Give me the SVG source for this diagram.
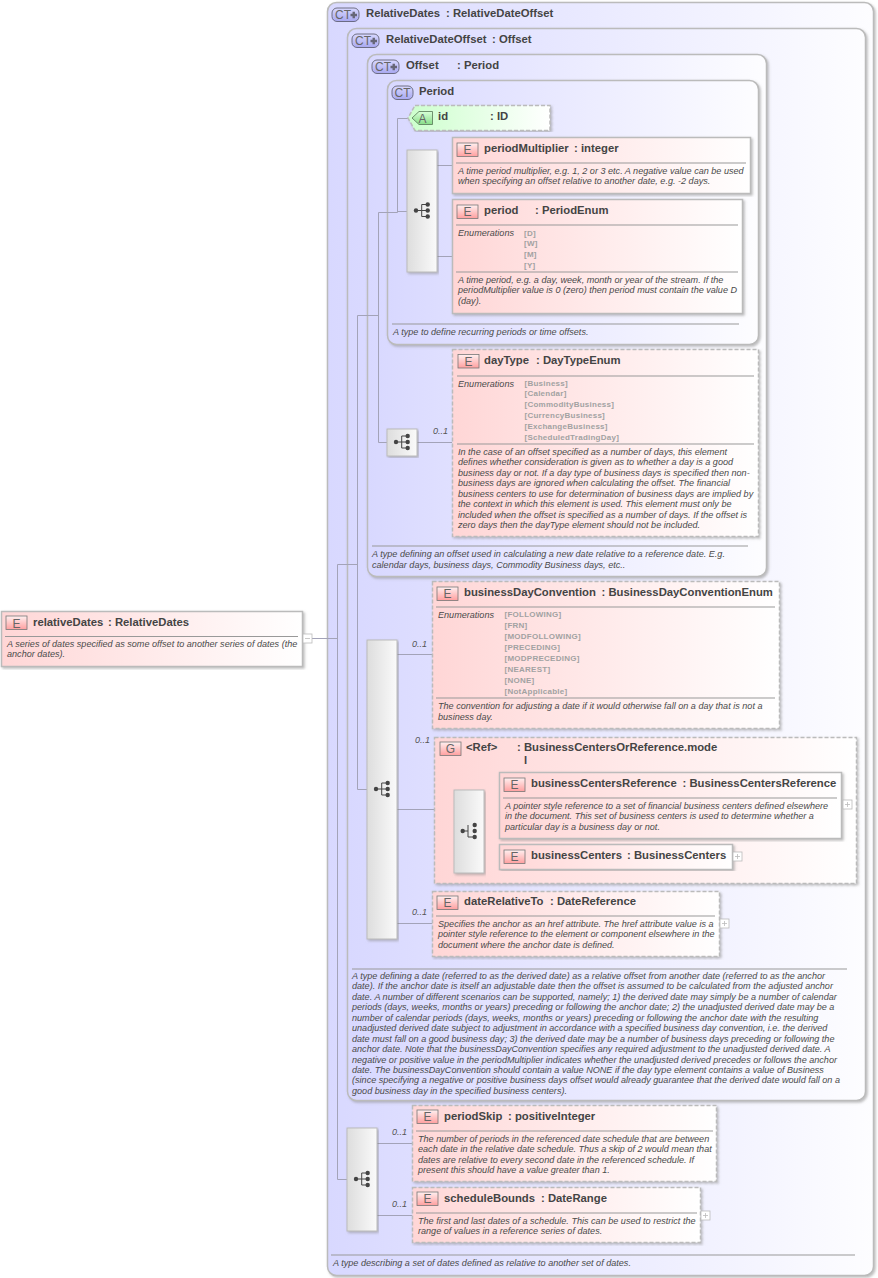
<svg xmlns="http://www.w3.org/2000/svg" width="878" height="1278" viewBox="0 0 878 1278">
<style>
text{font-family:"Liberation Sans",Arial,sans-serif;fill:#444}
.h{font-size:11.300px;font-weight:bold}
.d{font-size:9.080px;font-style:italic;fill:#4a4a4a}
.o{font-size:9px;font-style:italic;fill:#555}
.e{font-size:8px;font-weight:bold;fill:#a2a2a2;letter-spacing:.25px}
.b{font-size:12px;text-anchor:middle;fill:#666}
.c{fill:none;stroke:#a3a3b8;stroke-width:1}
.sep{stroke:#999;stroke-width:1;fill:none}
.ct{fill:url(#gct);stroke:#bbb;stroke-width:1.5;filter:url(#sh)}
.el{fill:url(#gel);stroke:#bbb;stroke-width:1.5;filter:url(#sh)}
.opt{fill:url(#gel);stroke:#bbb;stroke-width:1.5;stroke-dasharray:4 2;filter:url(#sh)}
.at{fill:url(#gat);stroke:#bbb;stroke-width:1.5;stroke-dasharray:4 2;filter:url(#sh)}
.seq{fill:url(#gseq);stroke:#bbb;stroke-width:1;filter:url(#sh)}
.bE{fill:url(#gbE);stroke:#777;stroke-width:.8}
.bC{fill:url(#gbC);stroke:#556;stroke-width:.8}
.bA{fill:url(#gbA);stroke:#575;stroke-width:.8}
.pl{fill:#fff;stroke:#bbb;stroke-width:.8}
.pm{stroke:#bbb;stroke-width:.8;fill:none}
</style>
<defs>
<linearGradient id="gct" x1="0" y1="0" x2="1" y2="0"><stop offset="0" stop-color="#d8d8ff"/><stop offset="1" stop-color="#fdfdff"/></linearGradient>
<linearGradient id="gel" x1="0" y1="0" x2="1" y2="0"><stop offset="0" stop-color="#ffd6d6"/><stop offset="1" stop-color="#fff"/></linearGradient>
<linearGradient id="gat" x1="0" y1="0" x2="1" y2="0"><stop offset="0" stop-color="#ccffcc"/><stop offset="1" stop-color="#fff"/></linearGradient>
<linearGradient id="gseq" x1="0" y1="0" x2="1" y2="0"><stop offset="0" stop-color="#ddd"/><stop offset="1" stop-color="#fafafa"/></linearGradient>
<linearGradient id="gbE" x1="0" y1="0" x2="0" y2="1"><stop offset="0" stop-color="#fff0f0"/><stop offset="1" stop-color="#ff9f9f"/></linearGradient>
<linearGradient id="gbC" x1="0" y1="0" x2="0" y2="1"><stop offset="0" stop-color="#d8d8ff"/><stop offset="1" stop-color="#a8a8f0"/></linearGradient>
<linearGradient id="gbA" x1="0" y1="0" x2="0" y2="1"><stop offset="0" stop-color="#d8ffd8"/><stop offset="1" stop-color="#88dd88"/></linearGradient>
<filter id="sh" x="-5%" y="-5%" width="110%" height="110%"><feDropShadow dx="1.5" dy="1.5" stdDeviation="1" flood-color="#888" flood-opacity=".55"/></filter>
<g id="badgeE"><rect class="bE" x="0" y="0" width="21" height="13.500"/></g>
<g id="badgeCTp"><rect class="bC" x="0" y="0" width="27" height="13.500" rx="5"/><path d="M18.500 7h6.500M21.750 3.750v6.500" stroke="#667" stroke-width="2.400" fill="none"/></g>
<g id="plus"><rect class="pl" x="0" y="0" width="9" height="9"/><path class="pm" d="M2 4.500h5M4.500 2v5"/></g>
<g id="seqI" fill="#444" stroke="#444" stroke-width="1"><circle cx="0" cy="0" r="2.200" stroke="none"/><path d="M0 0h5.700M5.700 -6v12M5.700 -6h6M5.700 0h6M5.700 6h6" fill="none"/><circle cx="11.700" cy="-6" r="2.200" stroke="none"/><circle cx="11.700" cy="0" r="2.200" stroke="none"/><circle cx="11.700" cy="6" r="2.200" stroke="none"/></g>
<g id="choI" fill="#444" stroke="#444" stroke-width="1"><circle cx="0" cy="0" r="2.200" stroke="none"/><path d="M0 0h5.300M5.300 -6V6h6.700" fill="none"/><circle cx="12" cy="-6" r="2.200" stroke="none"/><circle cx="12" cy="0" r="2.200" stroke="none"/><circle cx="12" cy="6" r="2.200" stroke="none"/></g>
</defs>

<g id="ct-relativedates">
<rect class="ct" x="327.500" y="2.500" width="546" height="1273" rx="9"/>
<use href="#badgeCTp" x="332" y="8"/><text class="b" x="343" y="19">CT</text>
<text class="h" x="366" y="17">RelativeDates</text><text class="h" x="446" y="17">: RelativeDateOffset</text>
<path class="sep" d="M331 1255H855"/>
<text class="d" x="333" y="1266">A type describing a set of dates defined as relative to another set of dates.</text>
</g>
<g id="ct-relativedateoffset">
<rect class="ct" x="347.500" y="28.500" width="518" height="1072" rx="9"/>
<use href="#badgeCTp" x="352" y="34"/><text class="b" x="363" y="45">CT</text>
<text class="h" x="386" y="43">RelativeDateOffset</text><text class="h" x="492" y="43">: Offset</text>
<path class="sep" d="M352 969H847"/>
<text class="d" x="352" y="979">A type defining a date (referred to as the derived date) as a relative offset from another date (referred to as the anchor</text>
<text class="d" x="352" y="989">date). If the anchor date is itself an adjustable date then the offset is assumed to be calculated from the adjusted anchor</text>
<text class="d" x="352" y="1000">date. A number of different scenarios can be supported, namely; 1) the derived date may simply be a number of calendar</text>
<text class="d" x="352" y="1010">periods (days, weeks, months or years) preceding or following the anchor date; 2) the unadjusted derived date may be a</text>
<text class="d" x="352" y="1021">number of calendar periods (days, weeks, months or years) preceding or following the anchor date with the resulting</text>
<text class="d" x="352" y="1031">unadjusted derived date subject to adjustment in accordance with a specified business day convention, i.e. the derived</text>
<text class="d" x="352" y="1042">date must fall on a good business day; 3) the derived date may be a number of business days preceding or following the</text>
<text class="d" x="352" y="1052">anchor date. Note that the businessDayConvention specifies any required adjustment to the unadjusted derived date. A</text>
<text class="d" x="352" y="1063">negative or positive value in the periodMultiplier indicates whether the unadjusted derived precedes or follows the anchor</text>
<text class="d" x="352" y="1073">date. The businessDayConvention should contain a value NONE if the day type element contains a value of Business</text>
<text class="d" x="352" y="1083">(since specifying a negative or positive business days offset would already guarantee that the derived date would fall on a</text>
<text class="d" x="352" y="1094">good business day in the specified business centers).</text>
</g>
<g id="ct-offset">
<rect class="ct" x="367.500" y="54.500" width="399" height="522" rx="9"/>
<use href="#badgeCTp" x="372" y="60"/><text class="b" x="383" y="71">CT</text>
<text class="h" x="406" y="69">Offset</text><text class="h" x="457" y="69">: Period</text>
<path class="sep" d="M372 546H748"/>
<text class="d" x="372" y="557">A type defining an offset used in calculating a new date relative to a reference date. E.g.</text>
<text class="d" x="372" y="568">calendar days, business days, Commodity Business days, etc..</text>
</g>
<g id="ct-period">
<rect class="ct" x="387.500" y="80.500" width="371" height="264" rx="9"/>
<rect class="bC" x="392" y="86" width="21" height="13.500" rx="5"/><text class="b" x="402.500" y="97">CT</text>
<text class="h" x="419" y="95">Period</text>
<path class="sep" d="M392 324H739"/>
<text class="d" x="393" y="335">A type to define recurring periods or time offsets.</text>
</g>

<g id="connectors">
<path class="c" d="M312 638.500H337.500M337.500 564.500V1179.500M337.500 564.500H357.500M357.500 315.500V789.500M357.500 315.500H378.500M357.500 789.500H367M378.500 212.500V442.500M378.500 212.500H397.500M378.500 442.500H387M397.500 118.500V212.500M397.500 118.500H408M397.500 211.500H407M437 165.500H452M437 256.500H452M417 442.500H452M397 654.500H432M397 809.500H434M397 923.500H432M434 831.500H454M484 805.500H499M484 857.500H499M337.500 1179.500H347M377 1143.500H412M377 1215.500H412"/>
</g>

<g id="attr-id">
<path class="at" d="M415 105.500H550V130.500H415L408 118Z"/>
<path class="bA" d="M419 111.500H432.500V124.500H419L412 118Z"/><text class="b" x="422.500" y="122.500">A</text>
<text class="h" x="438" y="120">id</text><text class="h" x="490" y="120">: ID</text>
</g>
<g id="seq-period"><rect class="seq" x="407" y="150" width="30" height="122"/><use href="#seqI" x="416" y="210.500"/></g>
<g id="el-periodmultiplier">
<rect class="el" x="452.500" y="137.500" width="298" height="56"/>
<use href="#badgeE" x="457" y="143"/><text class="b" x="467.500" y="154">E</text>
<text class="h" x="484" y="152">periodMultiplier</text><text class="h" x="574" y="152">: integer</text>
<path class="sep" d="M456 163H746"/>
<text class="d" x="458" y="174">A time period multiplier, e.g. 1, 2 or 3 etc. A negative value can be used</text>
<text class="d" x="458" y="184">when specifying an offset relative to another date, e.g. -2 days.</text>
</g>
<g id="el-period">
<rect class="el" x="452.500" y="199.500" width="290" height="114"/>
<use href="#badgeE" x="457" y="205"/><text class="b" x="467.500" y="216">E</text>
<text class="h" x="484" y="214">period</text><text class="h" x="535" y="214">: PeriodEnum</text>
<path class="sep" d="M456 225H738M456 272H738"/>
<text class="d" x="458" y="236">Enumerations</text>
<text class="e" x="524" y="236">[D]</text><text class="e" x="524" y="246">[W]</text><text class="e" x="524" y="257">[M]</text><text class="e" x="524" y="268">[Y]</text>
<text class="d" x="458" y="283">A time period, e.g. a day, week, month or year of the stream. If the</text>
<text class="d" x="458" y="293">periodMultiplier value is 0 (zero) then period must contain the value D</text>
<text class="d" x="458" y="304">(day).</text>
</g>
<g id="seq-offset"><rect class="seq" x="387" y="429" width="30" height="27"/><use href="#seqI" x="396" y="442"/></g>
<text class="o" x="433" y="434">0..1</text>
<g id="el-daytype">
<rect class="opt" x="452.500" y="349.500" width="306" height="187"/>
<use href="#badgeE" x="458" y="354.500"/><text class="b" x="468.500" y="366">E</text>
<text class="h" x="484" y="364">dayType</text><text class="h" x="536" y="364">: DayTypeEnum</text>
<path class="sep" d="M457 376H754M457 444H754"/>
<text class="d" x="458" y="387">Enumerations</text>
<text class="e" x="524.500" y="385.500">[Business]</text><text class="e" x="524.500" y="396">[Calendar]</text><text class="e" x="524.500" y="406.500">[CommodityBusiness]</text><text class="e" x="524.500" y="417.500">[CurrencyBusiness]</text><text class="e" x="524.500" y="428.500">[ExchangeBusiness]</text><text class="e" x="524.500" y="439.500">[ScheduledTradingDay]</text>
<text class="d" x="458" y="455">In the case of an offset specified as a number of days, this element</text>
<text class="d" x="458" y="465">defines whether consideration is given as to whether a day is a good</text>
<text class="d" x="458" y="476">business day or not. If a day type of business days is specified then non-</text>
<text class="d" x="458" y="486">business days are ignored when calculating the offset. The financial</text>
<text class="d" x="458" y="497">business centers to use for determination of business days are implied by</text>
<text class="d" x="458" y="507">the context in which this element is used. This element must only be</text>
<text class="d" x="458" y="518">included when the offset is specified as a number of days. If the offset is</text>
<text class="d" x="458" y="528">zero days then the dayType element should not be included.</text>
</g>
<g id="seq-offsetdate"><rect class="seq" x="367" y="640" width="30" height="299"/><use href="#seqI" x="376" y="789"/></g>
<text class="o" x="412" y="647">0..1</text><text class="o" x="415" y="743">0..1</text><text class="o" x="412" y="915">0..1</text>
<g id="el-businessdayconvention">
<rect class="opt" x="432.500" y="581.500" width="347" height="147"/>
<use href="#badgeE" x="437" y="587"/><text class="b" x="447.500" y="598">E</text>
<text class="h" x="464" y="596">businessDayConvention</text><text class="h" x="601.500" y="596">: BusinessDayConventionEnum</text>
<path class="sep" d="M436 607H775M436 698H775"/>
<text class="d" x="438" y="618">Enumerations</text>
<text class="e" x="504.500" y="617">[FOLLOWING]</text><text class="e" x="504.500" y="628">[FRN]</text><text class="e" x="504.500" y="639">[MODFOLLOWING]</text><text class="e" x="504.500" y="650">[PRECEDING]</text><text class="e" x="504.500" y="661">[MODPRECEDING]</text><text class="e" x="504.500" y="672">[NEAREST]</text><text class="e" x="504.500" y="683">[NONE]</text><text class="e" x="504.500" y="694">[NotApplicable]</text>
<text class="d" x="438" y="709">The convention for adjusting a date if it would otherwise fall on a day that is not a</text>
<text class="d" x="438" y="720">business day.</text>
</g>
<g id="grp-ref">
<rect class="opt" x="434.500" y="737.500" width="422" height="146"/>
<use href="#badgeE" x="440" y="742"/><text class="b" x="450.500" y="753">G</text>
<text class="h" x="466" y="751">&lt;Ref&gt;</text><text class="h" x="517" y="751">: BusinessCentersOrReference.mode</text>
<text class="h" x="524" y="764">l</text>
</g>
<g id="seq-bc"><rect class="seq" x="454" y="790" width="30" height="83"/><use href="#choI" x="462.700" y="831"/></g>
<g id="el-businesscentersreference">
<rect class="el" x="499.500" y="772.500" width="342" height="66"/>
<use href="#badgeE" x="504" y="778"/><text class="b" x="514.500" y="789">E</text>
<text class="h" x="531" y="787">businessCentersReference</text><text class="h" x="682.500" y="787">: BusinessCentersReference</text>
<path class="sep" d="M503 798H837"/>
<text class="d" x="505" y="809">A pointer style reference to a set of financial business centers defined elsewhere</text>
<text class="d" x="505" y="819">in the document. This set of business centers is used to determine whether a</text>
<text class="d" x="505" y="830">particular day is a business day or not.</text>
<use href="#plus" x="843" y="800"/>
</g>
<g id="el-businesscenters">
<rect class="el" x="499.500" y="844.500" width="233" height="25"/>
<use href="#badgeE" x="504" y="850"/><text class="b" x="514.500" y="861">E</text>
<text class="h" x="531" y="859">businessCenters</text><text class="h" x="627" y="859">: BusinessCenters</text>
<use href="#plus" x="733" y="852"/>
</g>
<g id="el-daterelativeto">
<rect class="opt" x="432.500" y="891.500" width="287" height="65"/>
<use href="#badgeE" x="437" y="896"/><text class="b" x="447.500" y="907">E</text>
<text class="h" x="464" y="905">dateRelativeTo</text><text class="h" x="550" y="905">: DateReference</text>
<path class="sep" d="M436 916H715"/>
<text class="d" x="438" y="927">Specifies the anchor as an href attribute. The href attribute value is a</text>
<text class="d" x="438" y="937">pointer style reference to the element or component elsewhere in the</text>
<text class="d" x="438" y="948">document where the anchor date is defined.</text>
<use href="#plus" x="720" y="919"/>
</g>
<g id="seq-relativedates"><rect class="seq" x="347" y="1128" width="30" height="103"/><use href="#seqI" x="356" y="1179"/></g>
<text class="o" x="392" y="1135">0..1</text><text class="o" x="392" y="1207">0..1</text>
<g id="el-periodskip">
<rect class="opt" x="412.500" y="1105.500" width="304" height="76"/>
<use href="#badgeE" x="417" y="1110"/><text class="b" x="427.500" y="1121">E</text>
<text class="h" x="444" y="1120">periodSkip</text><text class="h" x="508" y="1120">: positiveInteger</text>
<path class="sep" d="M416 1131H713"/>
<text class="d" x="418" y="1142">The number of periods in the referenced date schedule that are between</text>
<text class="d" x="418" y="1152">each date in the relative date schedule. Thus a skip of 2 would mean that</text>
<text class="d" x="418" y="1163">dates are relative to every second date in the referenced schedule. If</text>
<text class="d" x="418" y="1173">present this should have a value greater than 1.</text>
</g>
<g id="el-schedulebounds">
<rect class="opt" x="412.500" y="1187.500" width="288" height="55"/>
<use href="#badgeE" x="417" y="1192"/><text class="b" x="427.500" y="1203">E</text>
<text class="h" x="444" y="1202">scheduleBounds</text><text class="h" x="541" y="1202">: DateRange</text>
<path class="sep" d="M416 1213H697"/>
<text class="d" x="418" y="1224">The first and last dates of a schedule. This can be used to restrict the</text>
<text class="d" x="418" y="1234">range of values in a reference series of dates.</text>
<use href="#plus" x="701" y="1211"/>
</g>
<g id="el-relativedates">
<rect class="el" x="1.500" y="611.500" width="301" height="55"/>
<use href="#badgeE" x="6" y="616"/><text class="b" x="16.500" y="628">E</text>
<text class="h" x="33" y="626">relativeDates</text><text class="h" x="108" y="626">: RelativeDates</text>
<path class="sep" d="M5 636.500H298"/>
<text class="d" x="7" y="647">A series of dates specified as some offset to another series of dates (the</text>
<text class="d" x="7" y="657">anchor dates).</text>
<rect class="pl" x="303" y="634" width="9" height="9"/><path class="pm" d="M305 638.500h5"/>
</g>
</svg>
